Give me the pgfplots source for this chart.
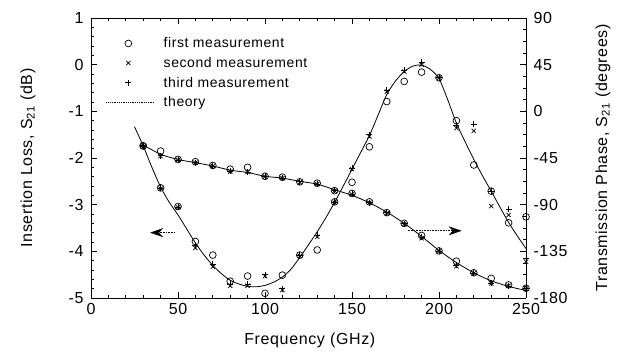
\documentclass[border=0pt]{standalone}
\usepackage{fontspec}
\setmainfont[LetterSpace=4]{Liberation Sans}
\usepackage{pgfplots}
\usepackage{pgfplotstable}
\pgfplotsset{compat=1.18}
\usetikzlibrary{arrows.meta}

% insertion loss (dB): f, first, second, third
\pgfplotstableread{
f    a      b      c
30  -1.74  -1.76  -1.72
40  -2.64  -2.66  -2.64
50  -3.04  -3.06  -3.06
60  -3.79  -3.93  -3.88
70  -4.08  -4.33  -4.28
80  -4.64  -4.74  -4.70
90  -4.53  -4.74  -4.70
100 -4.90  -4.53  -4.50
110 -4.51  -4.83  -4.80
120 -4.08  -4.10  -4.08
130 -3.97  -3.69  -3.66
140 -2.94  -2.96  -2.94
150 -2.52  -2.24  -2.22
160 -1.76  -1.54  -1.50
170 -0.79  -0.58  -0.55
180 -0.36  -0.15  -0.12
190 -0.16   0.00   0.06
200 -0.28  -0.28  -0.28
210 -1.20  -1.36  -1.30
220 -2.15  -1.42  -1.28
230 -2.71  -3.03  -2.71
240 -3.39  -3.22  -3.10
250 -3.26  -4.22  -4.15
}\losstable

% insertion loss theory (dB)
\pgfplotstableread{
f   y
25  -1.33
30  -1.74
35  -2.20
40  -2.62
45  -2.95
50  -3.22
55  -3.52
60  -3.82
65  -4.08
70  -4.30
75  -4.48
80  -4.62
85  -4.70
90  -4.75
95  -4.76
100 -4.73
105 -4.66
110 -4.55
115 -4.38
120 -4.13
125 -3.86
130 -3.58
135 -3.28
140 -2.95
145 -2.60
150 -2.24
155 -1.88
160 -1.52
165 -1.08
170 -0.64
175 -0.35
180 -0.15
185 -0.03
190 -0.01
195 -0.10
200 -0.30
205 -0.75
210 -1.25
215 -1.65
220 -2.03
225 -2.38
230 -2.71
235 -3.05
240 -3.38
245 -3.67
250 -3.94
}\losstheory

% transmission phase (degrees): f, first, second, third
\pgfplotstableread{
f    a       b       c
30  -33.3   -34.2   -33.8
40  -38.3   -43.2   -42.8
50  -46.4   -46.8   -46.8
60  -48.6   -49.5   -49.5
70  -52.2   -52.7   -52.7
80  -55.8   -58.1   -57.6
90  -54.0   -58.5   -58.5
100 -62.6   -63.0   -62.6
110 -63.5   -64.4   -64.4
120 -68.0   -68.4   -68.0
130 -69.3   -70.2   -70.2
140 -76.5   -76.5   -76.1
150 -79.2   -80.1   -80.1
160 -87.3   -88.2   -88.2
170 -97.7   -98.1   -97.7
180 -108.0  -108.9  -108.5
190 -119.7  -122.4  -121.5
200 -134.6  -135.0  -134.6
210 -144.5  -149.4  -148.5
220 -155.7  -156.2  -156.2
230 -161.1  -166.1  -165.6
240 -167.4  -168.3  -168.3
250 -170.6  -171.0  -171.0
}\phasetable

% transmission phase theory (degrees)
\pgfplotstableread{
f   y
30  -32.4
40  -41.4
50  -46.4
60  -49.5
70  -52.7
80  -56.7
90  -59.0
100 -62.6
110 -64.4
120 -67.5
130 -70.2
140 -75.6
150 -81.0
160 -88.2
170 -97.2
180 -108.0
190 -120.6
200 -134.1
210 -145.8
220 -155.7
230 -163.4
240 -168.8
250 -172.8
}\phasetheory

\begin{document}
\begin{tikzpicture}
\useasboundingbox (-91pt,-57pt) rectangle (536pt,298pt);
\begin{axis}[
  at={(0pt,0pt)}, anchor=south west,
  scale only axis, width=435pt, height=280pt,
  xmin=0, xmax=250, ymin=-5, ymax=1,
  axis y line*=left,
  xtick={0,50,...,250}, minor x tick num=4,
  ytick={-5,-4,...,1}, minor y tick num=4,
  major tick length=6pt, minor tick length=3pt,
  tick style={black, line width=0.6pt},
  axis line style={line width=0.8pt},
  x tick label style={font=\fontsize{16}{18}\selectfont, yshift=-2pt},
  y tick label style={font=\fontsize{16}{18}\selectfont, xshift=-4pt},
  /pgf/number format/assume math mode=true,
  xlabel={Frequency (GHz)},
  ylabel={Insertion Loss, S\textsubscript{21} (dB)},
  label style={font=\fontsize{16}{19}\selectfont},
  xlabel style={at={(axis description cs:0.503,-0.15)}, anchor=center},
  ylabel style={at={(axis description cs:-0.145,0.5)}, anchor=center},
  legend style={draw=none, fill=none, at={(axis description cs:0.027,0.945)},
    anchor=north west, font=\fontsize{14}{18}\selectfont, row sep=4pt},
  legend cell align=left,
]
\addplot[only marks, mark=o, mark size=3.4pt, line width=0.7pt] table[x=f,y=a] {\losstable};
\addlegendentry{\hspace*{8pt}first measurement}
\addplot[only marks, mark=x, mark size=3.0pt, line width=0.7pt] table[x=f,y=b] {\losstable};
\addlegendentry{\hspace*{8pt}second measurement}
\addplot[only marks, mark=+, mark size=3.0pt, line width=0.7pt] table[x=f,y=c] {\losstable};
\addlegendentry{\hspace*{8pt}third measurement}
\addplot[black, line width=0.8pt, smooth, no marks,
  legend image code/.code={\draw[black, densely dotted, line width=0.8pt] (-13.5pt,0pt) -- (33.5pt,0pt);}]
  table[x=f,y=y] {\losstheory};
\addlegendentry{\hspace*{8pt}theory}
\draw[densely dotted, line width=0.6pt, -{Stealth[length=13pt,width=9pt]}]
  (axis cs:48,-3.60) -- (axis cs:34,-3.60);
\draw[densely dotted, line width=0.6pt, -{Stealth[length=13pt,width=9pt]}]
  (axis cs:182,-3.56) -- (axis cs:213,-3.56);
\end{axis}
\begin{axis}[
  at={(0pt,0pt)}, anchor=south west,
  scale only axis, width=435pt, height=280pt,
  xmin=0, xmax=250, ymin=-180, ymax=90,
  axis y line*=right, axis x line=none,
  ytick={-180,-135,...,90}, minor y tick num=3,
  major tick length=6pt, minor tick length=3pt,
  tick style={black, line width=0.6pt},
  axis line style={line width=0.8pt},
  y tick label style={font=\fontsize{16}{18}\selectfont, xshift=4pt},
  /pgf/number format/assume math mode=true,
  ylabel={Transmission Phase, S\textsubscript{21} (degrees)},
  label style={font=\fontsize{16}{19}\selectfont},
  ylabel style={at={(axis description cs:1.177,0.5)}, anchor=center},
]
\addplot[only marks, mark=o, mark size=3.4pt, line width=0.7pt] table[x=f,y=a] {\phasetable};
\addplot[only marks, mark=x, mark size=3.0pt, line width=0.7pt] table[x=f,y=b] {\phasetable};
\addplot[only marks, mark=+, mark size=3.0pt, line width=0.7pt] table[x=f,y=c] {\phasetable};
\addplot[black, line width=0.8pt, smooth, no marks] table[x=f,y=y] {\phasetheory};
\end{axis}
\end{tikzpicture}
\end{document}
